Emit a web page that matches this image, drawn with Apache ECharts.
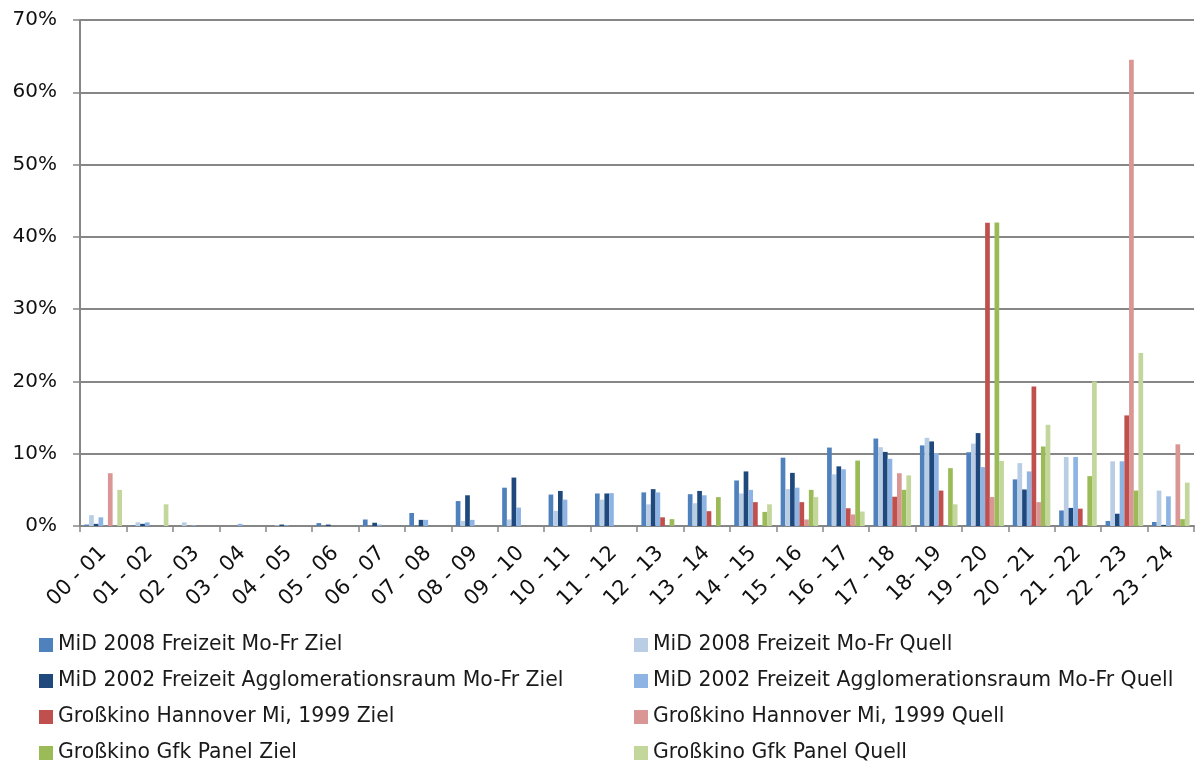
<!DOCTYPE html>
<html>
<head>
<meta charset="utf-8">
<style>
  html, body { margin: 0; padding: 0; background: #ffffff; }
  #chart { width: 1203px; height: 764px; }
</style>
<script src="https://cdn.jsdelivr.net/npm/echarts@6/dist/echarts.min.js"></script>
</head>
<body>
<div id="chart"></div>
<script>
// Hourly time slots
const categories = ['00 - 01','01 - 02','02 - 03','03 - 04','04 - 05','05 - 06','06 - 07','07 - 08',
  '08 - 09','09 - 10','10 - 11','11 - 12','12 - 13','13 - 14','14 - 15','15 - 16','16 - 17',
  '17 - 18','18- 19','19 - 20','20 - 21','21 - 22','22 - 23','23 - 24'];

// Shares per hour, in percent
const mid2008Ziel = [0.2,0.1,0,0,0,0.4,0.9,1.8,3.45,5.3,4.35,4.5,4.65,4.4,6.3,9.45,10.85,12.1,11.15,10.2,6.45,2.15,0.7,0.55];
const mid2008Quell = [1.5,0.5,0.5,0,0.1,0,0,0,0.7,0.9,2.1,3.65,3.0,3.15,4.5,5.1,7.15,10.9,12.2,11.4,8.7,9.55,8.95,4.9];
const mid2002Ziel = [0.3,0.3,0,0,0.2,0.2,0.45,0.85,4.25,6.7,4.85,4.5,5.1,4.85,7.55,7.35,8.25,10.25,11.7,12.85,5.05,2.5,1.7,0.15];
const mid2002Quell = [1.2,0.5,0.1,0.3,0.1,0,0.2,0.85,0.85,2.55,3.65,4.55,4.65,4.25,5.0,5.3,7.85,9.3,10.1,8.15,7.55,9.55,8.95,4.1];
const hannoverZiel = [0,0,0,0,0,0,0,0,0,0,0,0,1.2,2.05,3.3,3.3,2.45,4.05,4.9,41.95,19.3,2.4,15.3,0];
const hannoverQuell = [7.3,0,0,0,0,0,0,0,0,0,0,0,0,0,0,0.9,1.6,7.3,0,4.0,3.3,0,64.5,11.3];
const gfkZiel = [0,0,0,0,0,0,0,0,0,0,0,0,0.95,4.0,1.95,5.0,9.05,5.0,8.0,42.0,11.0,6.9,4.9,0.95];
const gfkQuell = [5.0,3.0,0,0,0,0,0,0,0,0,0,0,0,0,3.0,4.0,2.0,7.0,3.0,9.0,14.0,20.0,23.95,6.0];

// Y axis ticks
const yTicks = [0, 10, 20, 30, 40, 50, 60, 70];

const seriesDefs = [
  { name: 'MiD 2008 Freizeit Mo-Fr Ziel', data: mid2008Ziel, color: '#4F81BD' },
  { name: 'MiD 2008 Freizeit Mo-Fr Quell', data: mid2008Quell, color: '#B9CDE5' },
  { name: 'MiD 2002 Freizeit Agglomerationsraum Mo-Fr Ziel', data: mid2002Ziel, color: '#1F497D' },
  { name: 'MiD 2002 Freizeit Agglomerationsraum Mo-Fr Quell', data: mid2002Quell, color: '#8EB4E3' },
  { name: 'Großkino Hannover Mi, 1999 Ziel', data: hannoverZiel, color: '#C0504D' },
  { name: 'Großkino Hannover Mi, 1999 Quell', data: hannoverQuell, color: '#DA9694' },
  { name: 'Großkino Gfk Panel Ziel', data: gfkZiel, color: '#9BBB59' },
  { name: 'Großkino Gfk Panel Quell', data: gfkQuell, color: '#C3D69B' }
];

const FONT = 'DejaVu Sans';
const legendText = { fontFamily: FONT, fontSize: 20.4, color: '#1a1a1a' };

// Legend laid out as two columns of four rows, one component per entry
const legends = seriesDefs.map((s, i) => ({
  orient: 'horizontal',
  left: i % 2 === 0 ? 39 : 634,
  top: 635 + Math.floor(i / 2) * 36,
  itemWidth: 14, itemHeight: 14, itemGap: 0,
  icon: 'rect',
  textStyle: legendText,
  padding: 0,
  data: [s.name]
}));

const chart = echarts.init(document.getElementById('chart'), null, { renderer: 'canvas' });
chart.setOption({
  backgroundColor: '#ffffff',
  animation: false,
  grid: { left: 80, right: 9, top: 20, bottom: 238, containLabel: false },
  legend: legends,
  xAxis: {
    type: 'category',
    data: categories,
    axisLine: { lineStyle: { color: '#868686', width: 2 } },
    axisTick: { show: true, length: 6, lineStyle: { color: '#868686', width: 1.5 } },
    axisLabel: {
      rotate: 45, interval: 0, margin: 24,
      fontFamily: FONT, fontSize: 21, color: '#111111'
    }
  },
  yAxis: {
    type: 'value',
    min: yTicks[0], max: yTicks[yTicks.length - 1], interval: 10,
    axisLine: { show: true, lineStyle: { color: '#868686', width: 2 } },
    axisTick: { show: true, length: 7, lineStyle: { color: '#868686', width: 1.5 } },
    splitLine: { lineStyle: { color: '#868686', width: 2 } },
    axisLabel: {
      formatter: v => v + '%', margin: 23,
      fontFamily: FONT, fontSize: 20, color: '#111111'
    }
  },
  series: seriesDefs.map(s => ({
    name: s.name,
    type: 'bar',
    data: s.data,
    barGap: '0%',
    barCategoryGap: '19%',
    itemStyle: { color: s.color }
  }))
});
</script>
</body>
</html>
